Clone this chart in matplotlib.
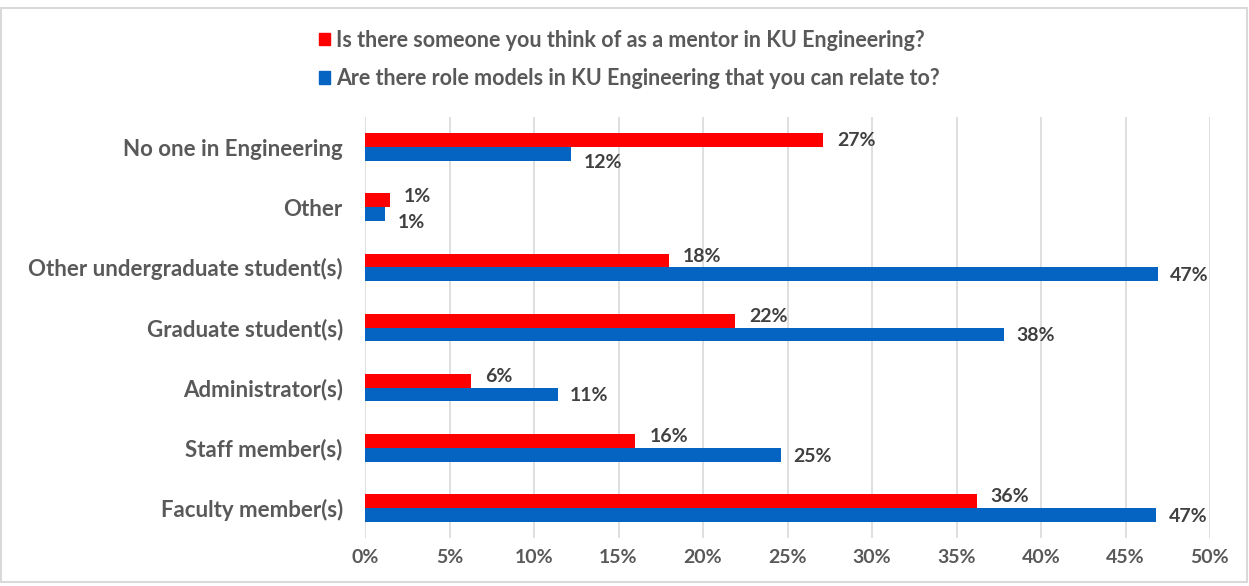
import matplotlib
matplotlib.use("Agg")
import matplotlib.pyplot as plt
from matplotlib.patches import Rectangle, Patch
import numpy as np

plt.rcParams['font.family'] = ['Lato', 'DejaVu Sans']

categories = ["Faculty member(s)", "Staff member(s)", "Administrator(s)",
              "Graduate student(s)", "Other undergraduate student(s)", "Other",
              "No one in Engineering"]
mentor = [36.2, 16.0, 6.3, 21.9, 18.0, 1.5, 27.1]
role_models = [46.8, 24.6, 11.4, 37.8, 46.9, 1.2, 12.2]
mentor_labels = ["36%", "16%", "6%", "22%", "18%", "1%", "27%"]
role_labels = ["47%", "25%", "11%", "38%", "47%", "1%", "12%"]
series_names = ["Is there someone you think of as a mentor in KU Engineering?",
                "Are there role models in KU Engineering that you can relate to?"]
xticks = [0, 5, 10, 15, 20, 25, 30, 35, 40, 45, 50]

RED = "#FF0000"
BLUE = "#0563C1"
TXT = "#595959"
LBL = "#404040"

W, H = 1249, 586
fig = plt.figure(figsize=(W/100, H/100), dpi=100)
ax = fig.add_axes([365/W, 1-538/H, (1210-365)/W, (538-117)/H])

y = np.arange(len(categories))
bh = 0.23
ax.barh(y + bh/2, mentor, height=bh, color=RED, zorder=3)
ax.barh(y - bh/2, role_models, height=bh, color=BLUE, zorder=3)

for i in range(len(categories)):
    dy_r = 3
    if categories[i] == "No one in Engineering":
        dy_r = 0
    ax.annotate(mentor_labels[i], (mentor[i], y[i] + bh/2), xytext=(10, dy_r),
                textcoords="offset points", ha="left", va="center",
                fontsize=14, fontweight="bold", color=LBL)
    dy = -1
    if role_labels[i] in ("12%",) or categories[i] == "Other":
        dy = -6
    ax.annotate(role_labels[i], (role_models[i], y[i] - bh/2), xytext=(9, dy),
                textcoords="offset points", ha="left", va="center",
                fontsize=14, fontweight="bold", color=LBL)

ax.set_xlim(0, 50)
ax.set_ylim(-0.5, len(categories) - 0.5)
ax.set_xticks(xticks)
ax.set_xticklabels([f"{t}%" for t in xticks])
ax.set_yticks(y)
ax.set_yticklabels(categories)
ax.grid(axis="x", color="#D9D9D9", linewidth=1.2, zorder=0)
for s in ax.spines.values():
    s.set_visible(False)
ax.tick_params(axis="both", length=0, colors=TXT)
ax.tick_params(axis="y", pad=16)
ax.tick_params(axis="x", pad=8)
for lab in ax.get_yticklabels():
    lab.set_fontsize(16)
    lab.set_fontweight("bold")
    lab.set_color(TXT)
for lab in ax.get_xticklabels():
    lab.set_fontsize(14)
    lab.set_fontweight("bold")
    lab.set_color(TXT)

handles = [Patch(color=RED, label=series_names[0]), Patch(color=BLUE, label=series_names[1])]
leg = fig.legend(handles=handles, loc="upper left", bbox_to_anchor=(310/W, 1-21/H),
                 frameon=False, ncol=1, handlelength=0.55, handleheight=0.55,
                 handletextpad=0.25, labelspacing=0.8, borderaxespad=0,
                 prop={"size": 15.5, "weight": "bold"})
for t in leg.get_texts():
    t.set_color(TXT)

fig.patches.append(Rectangle((1/W, 4/H), (W-3)/W, (H-12)/H, transform=fig.transFigure,
                             fill=False, edgecolor="#D9D9D9", linewidth=1.5))

fig.savefig("out.png", dpi=100)
